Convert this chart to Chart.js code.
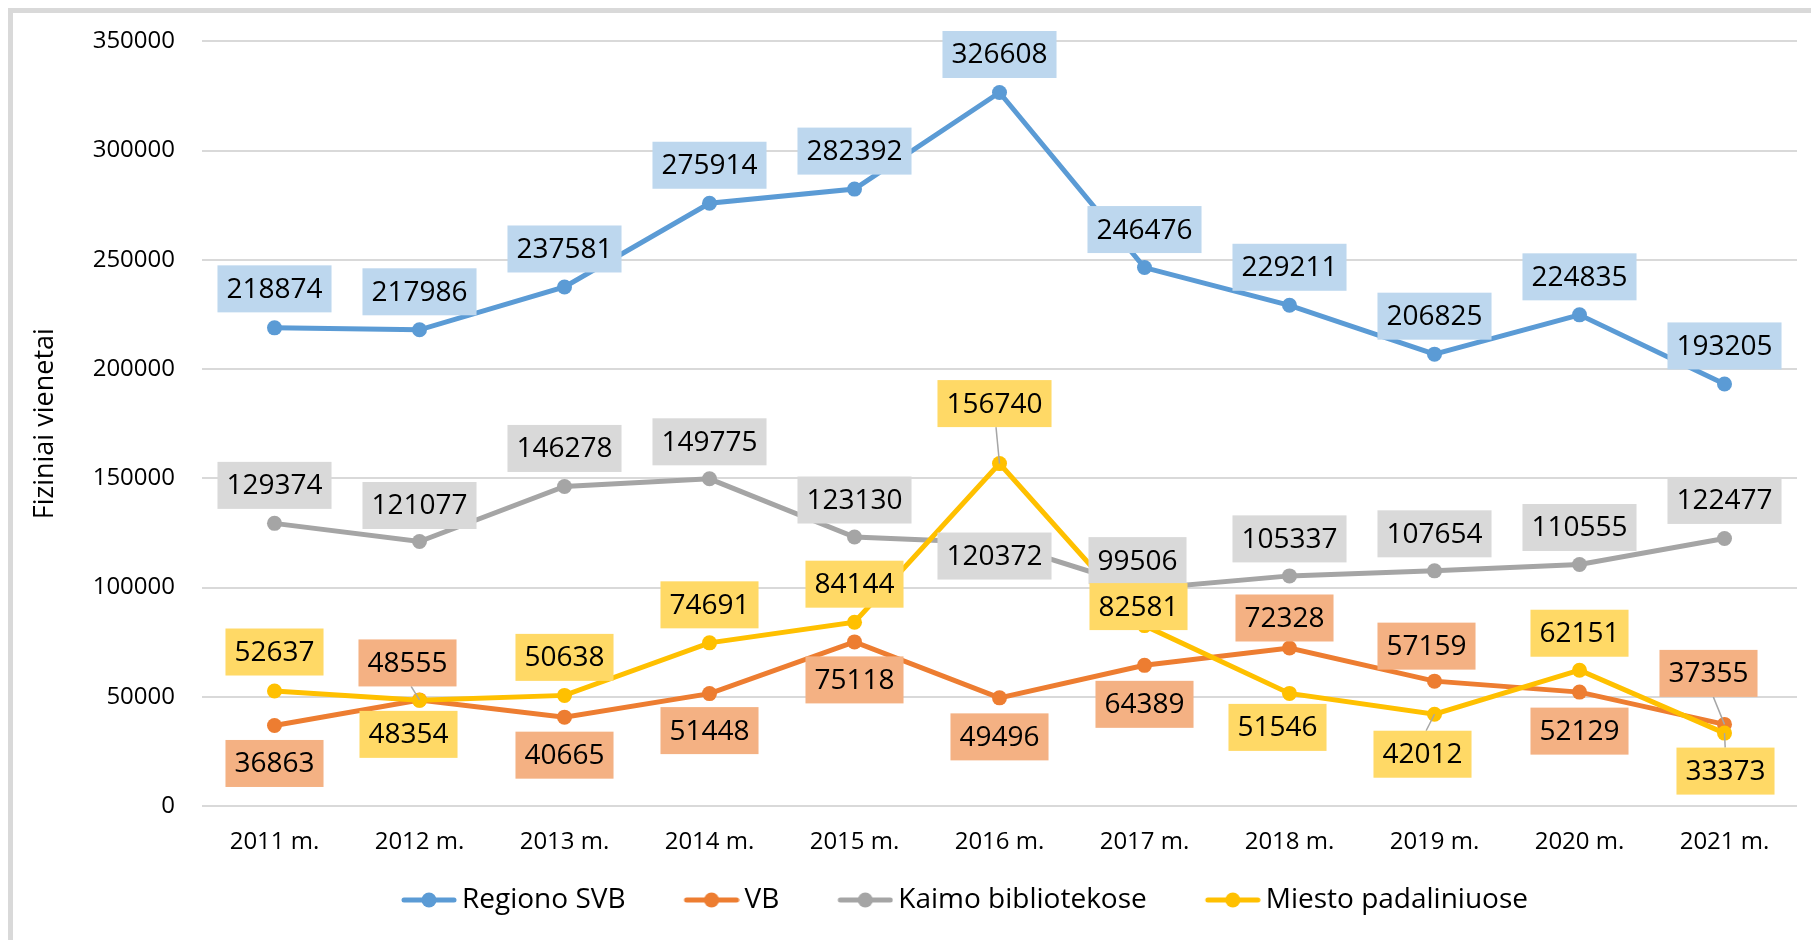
<!DOCTYPE html>
<html>
<head>
<meta charset="utf-8">
<script src="https://cdn.jsdelivr.net/npm/chart.js@4.4.1/dist/chart.umd.min.js"></script>
<style>
	html, body { margin: 0; padding: 0; background: #fff; overflow: hidden; }
	#wrap { position: relative; width: 1811px; height: 940px; }
	#frame { position: absolute; left: 8px; top: 8px; width: 1900px; height: 1000px;
		border-top: 5px solid #d9d9d9; border-left: 5px solid #d9d9d9; }
	#chart { position: absolute; left: 0; top: 0; }
</style>
</head>
<body>
<div id="wrap">
	<div id="frame"></div>
	<canvas id="chart" width="1811" height="940"></canvas>
</div>
<script>
// chart data
const years = ['2011 m.', '2012 m.', '2013 m.', '2014 m.', '2015 m.', '2016 m.', '2017 m.', '2018 m.', '2019 m.', '2020 m.', '2021 m.'];
const regionoSVB = [218874, 217986, 237581, 275914, 282392, 326608, 246476, 229211, 206825, 224835, 193205];
const vb = [36863, 48555, 40665, 51448, 75118, 49496, 64389, 72328, 57159, 52129, 37355];
const kaimo = [129374, 121077, 146278, 149775, 123130, 120372, 99506, 105337, 107654, 110555, 122477];
const miesto = [52637, 48354, 50638, 74691, 84144, 156740, 82581, 51546, 42012, 62151, 33373];
const yTicks = [0, 50000, 100000, 150000, 200000, 250000, 300000, 350000];

// label placement (dx, dy from the point in px, leader line)
const regionoPlace = [[0,-39],[0,-38],[0,-38],[0,-38],[0,-38],[0,-38],[0,-38],[0,-38],[0,-38],[0,-38],[0,-38]];
const vbPlace = [[0,38],[-12,-37,1],[0,38],[0,37],[0,38],[0,39],[0,39],[-5,-30],[-8,-35],[0,39],[-16,-51,1]];
const kaimoPlace = [[0,-38],[0,-36],[0,-38],[0,-37],[0,-37],[-5,13],[-7,-28],[0,-37],[0,-37],[0,-37],[0,-38]];
const miestoPlace = [[0,-39],[-11,34],[0,-38],[0,-38],[0,-38],[-5,-60,1],[-6,-19],[-12,34],[-12,40,1],[0,-37],[1,38,1]];

const LEGEND_DX = 29;

function legendIcon(color) {
	let c = document.createElement('canvas');
	c.width = 110;
	c.height = 20;
	let g = c.getContext('2d');
	g.strokeStyle = color;
	g.lineWidth = 5;
	g.lineCap = 'round';
	g.beginPath();
	g.moveTo(57, 10);
	g.lineTo(107, 10);
	g.stroke();
	g.fillStyle = color;
	g.beginPath();
	g.arc(82, 10, 7.5, 0, Math.PI * 2);
	g.fill();
	return c;
}

const boxLabels = {
	id: 'boxLabels',
	afterDatasetsDraw(chart) {
		let ctx = chart.ctx;
		ctx.save();
		ctx.font = '28px "Open Sans"';
		ctx.textAlign = 'center';
		ctx.textBaseline = 'middle';
		let boxes = [];
		chart.data.datasets.forEach((ds, i) => {
			let meta = chart.getDatasetMeta(i);
			meta.data.forEach((pt, j) => {
				let p = ds.place[j];
				let text = String(ds.data[j]);
				let w = ctx.measureText(text).width + 18;
				let h = 47;
				boxes.push({cx: pt.x + p[0], cy: pt.y + p[1], w, h, text, bg: ds.labelBg, leader: p[2], px: pt.x, py: pt.y});
			});
		});
		// leader lines under the boxes
		ctx.strokeStyle = '#a6a6a6';
		ctx.lineWidth = 1.5;
		boxes.forEach(b => {
			if (!b.leader) return;
			let ey = b.py < b.cy ? b.cy - b.h / 2 : b.cy + b.h / 2;
			let ex = b.cx + (b.px - b.cx) * 0.3;
			ctx.beginPath();
			ctx.moveTo(ex, ey);
			ctx.lineTo(b.px, b.py);
			ctx.stroke();
		});
		boxes.forEach(b => {
			ctx.fillStyle = b.bg;
			ctx.fillRect(b.cx - b.w / 2, b.cy - b.h / 2, b.w, b.h);
			ctx.fillStyle = '#000';
			ctx.fillText(b.text, b.cx, b.cy + 1);
		});
		ctx.restore();
	}
};

const legendShift = {
	id: 'legendShift',
	afterLayout(chart) {
		chart.legend.left += LEGEND_DX;
		chart.legend.right += LEGEND_DX;
	}
};

function series(label, data, color, labelBg, place, order) {
	return {
		label: label,
		data: data,
		borderColor: color,
		backgroundColor: color,
		borderWidth: 5,
		pointRadius: 7.5,
		pointHoverRadius: 7.5,
		pointBorderWidth: 0,
		pointBackgroundColor: color,
		tension: 0,
		fill: false,
		labelBg: labelBg,
		place: place,
		order: order
	};
}

Chart.defaults.font.family = '"Open Sans", sans-serif';
Chart.defaults.color = '#000';

let ctx = document.getElementById('chart').getContext('2d');
let chart = new Chart(ctx, {
	type: 'line',
	data: {
		labels: years,
		datasets: [
			series('Regiono SVB', regionoSVB, '#5b9bd5', '#bdd7ee', regionoPlace, 4),
			series('VB', vb, '#ed7d31', '#f4b183', vbPlace, 3),
			series('Kaimo bibliotekose', kaimo, '#a5a5a5', '#d9d9d9', kaimoPlace, 2),
			series('Miesto padaliniuose', miesto, '#ffc000', '#ffd966', miestoPlace, 1)
		]
	},
	options: {
		responsive: false,
		devicePixelRatio: 1,
		animation: false,
		layout: { padding: { left: 29, top: 41, right: 14, bottom: 16 } },
		plugins: {
			tooltip: { enabled: false },
			legend: {
				position: 'bottom',
				labels: {
					usePointStyle: true,
					pointStyleWidth: 92,
					padding: 13,
					font: { size: 28 },
					color: '#000',
					generateLabels(chart) {
						return chart.data.datasets.map((ds, i) => ({
							text: ds.label,
							pointStyle: legendIcon(ds.borderColor),
							fillStyle: ds.borderColor,
							strokeStyle: ds.borderColor,
							lineWidth: 0,
							hidden: false,
							datasetIndex: i
						}));
					}
				}
			}
		},
		scales: {
			x: {
				offset: true,
				grid: { display: false, drawTicks: false },
				border: { display: false },
				ticks: { padding: 22, font: { size: 24 }, color: '#000' },
				afterFit(scale) { scale.height = 67; }
			},
			y: {
				min: 0,
				max: 350000,
				afterBuildTicks(scale) { scale.ticks = yTicks.map(v => ({ value: v })); },
				grid: { color: '#d9d9d9', lineWidth: 2, drawTicks: false },
				border: { display: false },
				ticks: { padding: 27, font: { size: 24 }, color: '#000', callback: v => String(v) },
				title: { display: true, text: 'Fiziniai vienetai', font: { size: 27 }, color: '#000', padding: 0 },
				afterFit(scale) { scale.width = 173; }
			}
		}
	},
	plugins: [boxLabels, legendShift]
});
</script>
</body>
</html>
